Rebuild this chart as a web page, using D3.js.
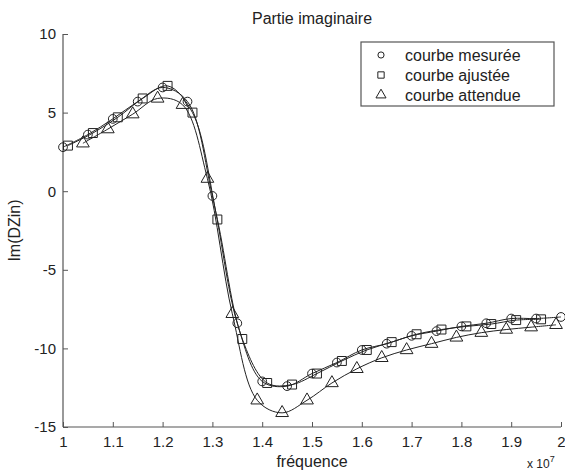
<!DOCTYPE html>
<html>
<head>
<meta charset="utf-8">
<script src="https://cdn.jsdelivr.net/npm/d3@7"></script>
<style>
  body { margin: 0; background: #fff; }
  text { font-family: "Liberation Sans", Arial, sans-serif; fill: #222; }
</style>
</head>
<body>
<script>
const width = 565, height = 470;
const margin = { top: 34, right: 4, bottom: 43, left: 63 };
const innerWidth = width - margin.left - margin.right;
const innerHeight = height - margin.top - margin.bottom;

// frequencies (x 10^7) and values
const xMesuree = [1.00, 1.05, 1.10, 1.15, 1.20, 1.25, 1.30, 1.35, 1.40, 1.45, 1.50,
    1.55, 1.60, 1.65, 1.70, 1.75, 1.80, 1.85, 1.90, 1.95, 2.00];
const yMesuree = [2.8, 3.6, 4.6, 5.7, 6.6, 5.7, -0.3, -8.4, -12.1, -12.4, -11.6,
    -10.9, -10.1, -9.7, -9.2, -8.9, -8.6, -8.4, -8.1, -8.1, -8.0];

const xAjustee = [1.01, 1.06, 1.11, 1.16, 1.21, 1.26, 1.31, 1.36, 1.41, 1.46,
    1.51, 1.56, 1.61, 1.66, 1.71, 1.76, 1.81, 1.86, 1.91, 1.96];
const yAjustee = [2.9, 3.7, 4.7, 5.9, 6.7, 5.0, -1.8, -9.4, -12.2, -12.3,
    -11.6, -10.8, -10.1, -9.6, -9.1, -8.8, -8.6, -8.45, -8.2, -8.15];

const xAttendue = [1.04, 1.09, 1.14, 1.19, 1.24, 1.29, 1.34, 1.39, 1.44, 1.49,
    1.54, 1.59, 1.64, 1.69, 1.74, 1.79, 1.84, 1.89, 1.94, 1.99];
const yAttendue = [3.05, 3.95, 4.9, 5.9, 5.5, 0.8, -7.8, -13.3, -14.1, -13.3,
    -12.2, -11.3, -10.6, -10.1, -9.7, -9.3, -9.0, -8.8, -8.65, -8.5];

const xTicks = [1, 1.1, 1.2, 1.3, 1.4, 1.5, 1.6, 1.7, 1.8, 1.9, 2];
const yTicks = [-15, -10, -5, 0, 5, 10];
const legendLabels = ['courbe mesurée', 'courbe ajustée', 'courbe attendue'];
const symbols = [d3.symbolCircle, d3.symbolSquare, d3.symbolTriangle];
const symbolSizes = [60, 80, 70];

const series = [
    { x: xMesuree, y: yMesuree },
    { x: xAjustee, y: yAjustee },
    { x: xAttendue, y: yAttendue }
].map(s => s.x.map((x, i) => ({ x: x, y: s.y[i] })));

const svg = d3.select('body').append('svg')
    .attr('width', width)
    .attr('height', height);

const xScale = d3.scaleLinear().domain([1, 2]).range([0, innerWidth]);
const yScale = d3.scaleLinear().domain([-15, 10]).range([innerHeight, 0]);

const g = svg.append('g').attr('transform', `translate(${margin.left},${margin.top})`);

// axes, ticks pointing inward like matlab
const xAxis = g.append('g')
    .attr('transform', `translate(0,${innerHeight})`)
    .call(d3.axisBottom(xScale).tickValues(xTicks).tickSize(-5).tickPadding(9).tickFormat(d => d));
const yAxis = g.append('g')
    .call(d3.axisLeft(yScale).tickValues(yTicks).tickSize(-5).tickPadding(7).tickFormat(d => d));
[xAxis, yAxis].forEach(a => {
    a.select('.domain').attr('stroke', '#555').attr('stroke-width', 1.2);
    a.selectAll('.tick line').attr('stroke', '#555');
    a.selectAll('.tick text').style('font-size', '15px').attr('fill', '#222');
});
// no outer ticks at the ends of the domain
xAxis.select('.domain').attr('d', `M0,0H${innerWidth}`);
yAxis.select('.domain').attr('d', `M0,${innerHeight}V0`);

const line = d3.line()
    .curve(d3.curveCatmullRom.alpha(0.5))
    .x(d => xScale(d.x))
    .y(d => yScale(d.y));

series.forEach((s, k) => {
    g.append('path')
        .attr('d', line(s))
        .attr('fill', 'none')
        .attr('stroke', '#222')
        .attr('stroke-width', 1);
    g.selectAll('.m' + k)
        .data(s)
        .enter()
        .append('path')
        .attr('class', 'm' + k)
        .attr('d', d3.symbol().type(symbols[k]).size(symbolSizes[k]))
        .attr('transform', d => `translate(${xScale(d.x)},${yScale(d.y)})`)
        .attr('fill', 'none')
        .attr('stroke', '#222')
        .attr('stroke-width', 1);
});

// legend
const legend = svg.append('g').attr('transform', 'translate(361,42)');
legend.append('rect')
    .attr('width', 193)
    .attr('height', 64)
    .attr('fill', '#fff')
    .attr('stroke', '#555')
    .attr('stroke-width', 1.2);
legendLabels.forEach((label, i) => {
    legend.append('path')
        .attr('d', d3.symbol().type(symbols[i]).size([30, 40, 44][i]))
        .attr('transform', `translate(20,${13 + i * 20})`)
        .attr('fill', 'none')
        .attr('stroke', '#222');
    legend.append('text')
        .attr('x', 44)
        .attr('y', 13 + i * 20)
        .attr('dy', '0.35em')
        .style('font-size', '16px')
        .text(label);
});

// titles
svg.append('text')
    .attr('x', margin.left + innerWidth / 2)
    .attr('y', 24)
    .attr('text-anchor', 'middle')
    .style('font-size', '16px')
    .text('Partie imaginaire');
svg.append('text')
    .attr('x', margin.left + innerWidth / 2)
    .attr('y', 467)
    .attr('text-anchor', 'middle')
    .style('font-size', '16px')
    .text('fréquence');
svg.append('text')
    .attr('transform', `translate(20,${margin.top + innerHeight / 2}) rotate(-90)`)
    .attr('text-anchor', 'middle')
    .style('font-size', '16px')
    .text('Im(DZin)');
const exp = svg.append('text')
    .attr('x', 527)
    .attr('y', 468)
    .style('font-size', '12px');
exp.append('tspan').text('x 10');
exp.append('tspan').attr('dy', -6).style('font-size', '9px').text('7');
</script>
</body>
</html>
